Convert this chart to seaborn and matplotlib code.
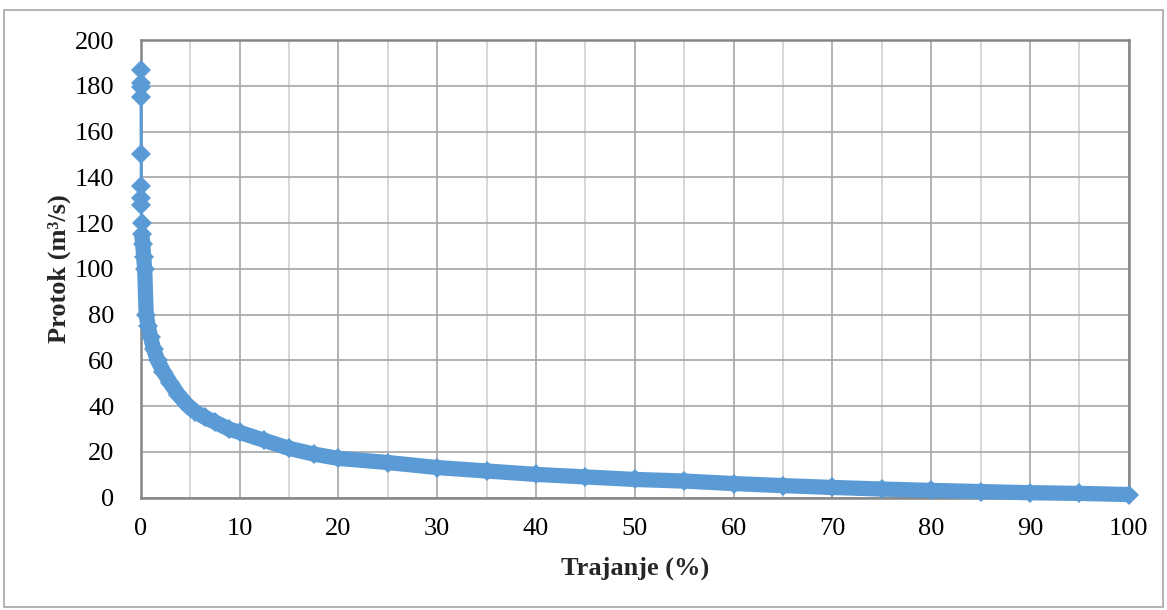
import matplotlib
matplotlib.use("Agg")
import matplotlib.pyplot as plt
import seaborn as sns
import pandas as pd
from matplotlib.patches import Rectangle
from matplotlib.ticker import MultipleLocator

sns.set_style("whitegrid")
plt.rcParams['font.family'] = ['Liberation Serif', 'DejaVu Serif']

# Flow duration curve
trajanje = [0.00, 0.01, 0.02, 0.03, 0.04, 0.05, 0.06, 0.07, 0.08, 0.10,
            0.20, 0.30, 0.40, 0.55, 0.75, 1.0, 1.3, 1.7, 2.3, 3.0,
            3.8, 4.7, 5.5, 6.5, 7.5, 8.9, 10, 12.5, 15, 17.5,
            20, 25, 30, 35, 40, 45, 50, 55, 60, 65,
            70, 75, 80, 85, 90, 95, 100]
protok = [187, 181, 179.5, 175, 150, 136, 131, 128, 120, 115,
          111, 105, 100, 80, 75, 70, 65, 60, 55, 50,
          45, 40.5, 37.5, 35, 33, 30, 28.5, 25.0, 21.5, 19.0,
          17.1, 15.3, 13.1, 11.6, 10.1, 9.0, 7.9, 7.2, 6.1, 5.2,
          4.4, 3.7, 3.1, 2.6, 2.1, 1.8, 1.3]

df = pd.DataFrame({'Trajanje': trajanje, 'Protok': protok})
dense = df[df['Protok'] <= 115]

blue = '#5B9BD5'

fig = plt.figure(figsize=(11.67, 6.10), dpi=100)
ax = fig.add_axes([0.1206, 0.1844, 0.9672 - 0.1206, 0.9344 - 0.1844])

# dense part of the record draws as a solid band of markers
sns.lineplot(data=dense, x='Trajanje', y='Protok', ax=ax, color=blue,
             linewidth=11, estimator=None, sort=False, clip_on=False,
             zorder=3, solid_capstyle='butt', solid_joinstyle='round')
sns.lineplot(data=df, x='Trajanje', y='Protok', ax=ax, color=blue,
             linewidth=2.2, marker='D', markersize=10.5, markeredgewidth=0,
             estimator=None, sort=False, clip_on=False, zorder=3)

ax.set_xlim(0, 100)
ax.set_ylim(0, 200)
ax.xaxis.set_major_locator(MultipleLocator(10))
ax.xaxis.set_minor_locator(MultipleLocator(5))
ax.yaxis.set_major_locator(MultipleLocator(20))

ax.grid(which='major', color='#a6a6a6', linewidth=1.2)
ax.grid(which='minor', axis='x', color='#d0d0d0', linewidth=1.2)
ax.set_axisbelow(True)

for s in ax.spines.values():
    s.set_visible(True)
    s.set_color('#868686')
    s.set_linewidth(1.8)
    s.set_zorder(2)

ax.tick_params(axis='both', which='major', direction='out', length=7,
               width=1.2, color='#868686', labelsize=19, labelcolor='black')
ax.tick_params(axis='y', pad=12)
ax.tick_params(axis='x', pad=8)
ax.tick_params(which='minor', length=0)

ax.set_xlabel('Trajanje (%)', fontsize=19, fontweight='bold', labelpad=12)
ax.set_ylabel('Protok (m³/s)', fontsize=19, fontweight='bold', labelpad=3)

fig.patches.append(Rectangle((4 / 1167, 1 - 607 / 610), 1159 / 1167, 597 / 610,
                             transform=fig.transFigure, fill=False,
                             edgecolor='#a6a6a6', linewidth=1.2))

fig.savefig('out.png', dpi=100)
